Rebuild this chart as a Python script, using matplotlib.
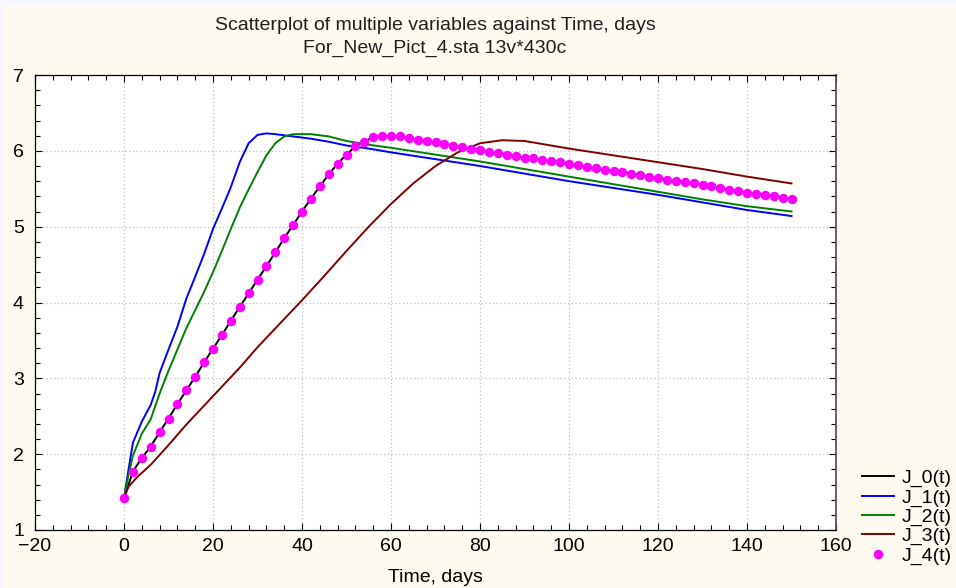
import matplotlib
matplotlib.use("Agg")
import matplotlib.pyplot as plt
from matplotlib.ticker import MultipleLocator
from matplotlib.patches import Rectangle

plt.rcParams['font.family'] = ['Liberation Sans', 'DejaVu Sans']

# ---- data ----
t_j4 = list(range(0, 152, 2))
j4 = [1.42, 1.77, 1.95, 2.10, 2.29, 2.47, 2.66, 2.84, 3.02, 3.21,
      3.39, 3.57, 3.76, 3.94, 4.12, 4.30, 4.48, 4.66, 4.85, 5.02,
      5.20, 5.37, 5.53, 5.69, 5.83, 5.95, 6.06, 6.12, 6.18, 6.19,
      6.20, 6.19, 6.17, 6.14, 6.13, 6.11, 6.09, 6.07, 6.05, 6.03,
      6.01, 5.99, 5.97, 5.95, 5.93, 5.91, 5.90, 5.88, 5.86, 5.85,
      5.83, 5.81, 5.79, 5.77, 5.75, 5.73, 5.72, 5.70, 5.68, 5.66,
      5.64, 5.62, 5.60, 5.59, 5.57, 5.55, 5.53, 5.51, 5.49, 5.47,
      5.45, 5.43, 5.42, 5.40, 5.38, 5.36]
t_j0 = t_j4
j0 = j4

t_j1 = [0, 1, 2, 4, 6, 7, 8, 10, 12, 14, 16, 18, 20, 22, 24, 26, 28, 30, 32, 34,
        38, 42, 46, 50, 55, 60, 70, 80, 90, 100, 110, 120, 130, 140, 150]
j1 = [1.42, 1.79, 2.15, 2.43, 2.65, 2.82, 3.07, 3.38, 3.68, 4.05, 4.34, 4.64, 4.97,
      5.24, 5.52, 5.85, 6.10, 6.21, 6.23, 6.22, 6.19, 6.16, 6.12, 6.07, 6.03, 5.98,
      5.89, 5.80, 5.70, 5.60, 5.51, 5.42, 5.32, 5.22, 5.14]

t_j2 = [0, 1, 2, 4, 6, 8, 10, 12, 14, 16, 18, 20, 22, 24, 26, 28, 30, 32, 34, 36,
        38, 42, 46, 50, 55, 60, 70, 80, 90, 100, 110, 120, 130, 140, 150]
j2 = [1.42, 1.72, 1.98, 2.27, 2.46, 2.80, 3.10, 3.38, 3.66, 3.90, 4.14, 4.40, 4.68,
      4.97, 5.25, 5.49, 5.72, 5.94, 6.10, 6.19, 6.22, 6.22, 6.19, 6.13, 6.08, 6.04,
      5.95, 5.86, 5.76, 5.66, 5.56, 5.46, 5.36, 5.27, 5.20]

t_j3 = [0, 1, 3, 6, 10, 14, 18, 22, 26, 30, 35, 40, 45, 50, 55, 60, 65, 70, 75,
        80, 85, 90, 95, 100, 110, 120, 130, 140, 150]
j3 = [1.42, 1.57, 1.70, 1.86, 2.12, 2.39, 2.64, 2.89, 3.14, 3.41, 3.72, 4.03, 4.35,
      4.68, 5.00, 5.30, 5.57, 5.80, 5.98, 6.10, 6.14, 6.13, 6.08, 6.03, 5.94, 5.85,
      5.76, 5.66, 5.57]

x_ticks = [-20, 0, 20, 40, 60, 80, 100, 120, 140, 160]
y_ticks = [1, 2, 3, 4, 5, 6, 7]

FS = 14

# ---- figure ----
fig = plt.figure(figsize=(9.56, 5.88), dpi=100, facecolor='#FFFAF0')
fig.patches.append(Rectangle((0, 1 - 5/588), 1, 5/588, transform=fig.transFigure,
                             facecolor='#F6F6FE', edgecolor='none', zorder=0))
fig.patches.append(Rectangle((0, 0), 3/956, 1, transform=fig.transFigure,
                             facecolor='#F6F6FE', edgecolor='none', zorder=0))

ax = fig.add_axes([35/956, (588-530)/588, (836-35)/956, (530-75)/588])
ax.set_facecolor('white')

ax.plot(t_j0, j0, color='black', lw=1.4, label='J_0(t)', zorder=3)
ax.plot(t_j1, j1, color='#0000FF', lw=1.4, label='J_1(t)', zorder=3)
ax.plot(t_j2, j2, color='#008000', lw=1.4, label='J_2(t)', zorder=3)
ax.plot(t_j3, j3, color='#800000', lw=1.4, label='J_3(t)', zorder=3)
ax.plot(t_j4, j4, linestyle='none', marker='o', ms=6.8, color='#FF00FF',
        markeredgewidth=0, label='J_4(t)', zorder=4)

ax.set_xlim(-20, 160)
ax.set_ylim(1, 7)
ax.set_xticks(x_ticks)
ax.set_yticks(y_ticks)
ax.xaxis.set_minor_locator(MultipleLocator(4))
ax.yaxis.set_minor_locator(MultipleLocator(0.2))
ax.tick_params(which='both', direction='in', top=True, right=True,
               labelsize=FS, colors='black')
ax.tick_params(which='major', length=5, width=0.8)
ax.tick_params(which='minor', length=3.5, width=0.8)
ax.tick_params(axis='y', which='major', pad=8)
ax.tick_params(axis='x', which='major', pad=6)
ax.grid(True, which='major', color='#C0C0C0', linestyle=(0, (1, 2)), lw=0.9)
for s in ['left', 'bottom', 'top']:
    ax.spines[s].set_color('black')
    ax.spines[s].set_linewidth(0.9)
ax.spines['right'].set_color('#555555')
ax.spines['right'].set_linewidth(1.3)

ax.set_xlabel('Time, days', fontsize=FS, labelpad=10)
fig.text(435/956, 1 - 26/588, 'Scatterplot of multiple variables against Time, days',
         ha='center', va='center', fontsize=FS, color='#202020')
fig.text(435/956, 1 - 48/588, 'For_New_Pict_4.sta 13v*430c',
         ha='center', va='center', fontsize=FS, color='#202020')

leg = fig.legend(loc='center left', bbox_to_anchor=(852/956, 1 - 517/588),
                 frameon=False, fontsize=FS, handlelength=1.65, handletextpad=0.4,
                 labelspacing=0.08, borderpad=0)

fig.savefig('out.png', dpi=100, facecolor=fig.get_facecolor())
